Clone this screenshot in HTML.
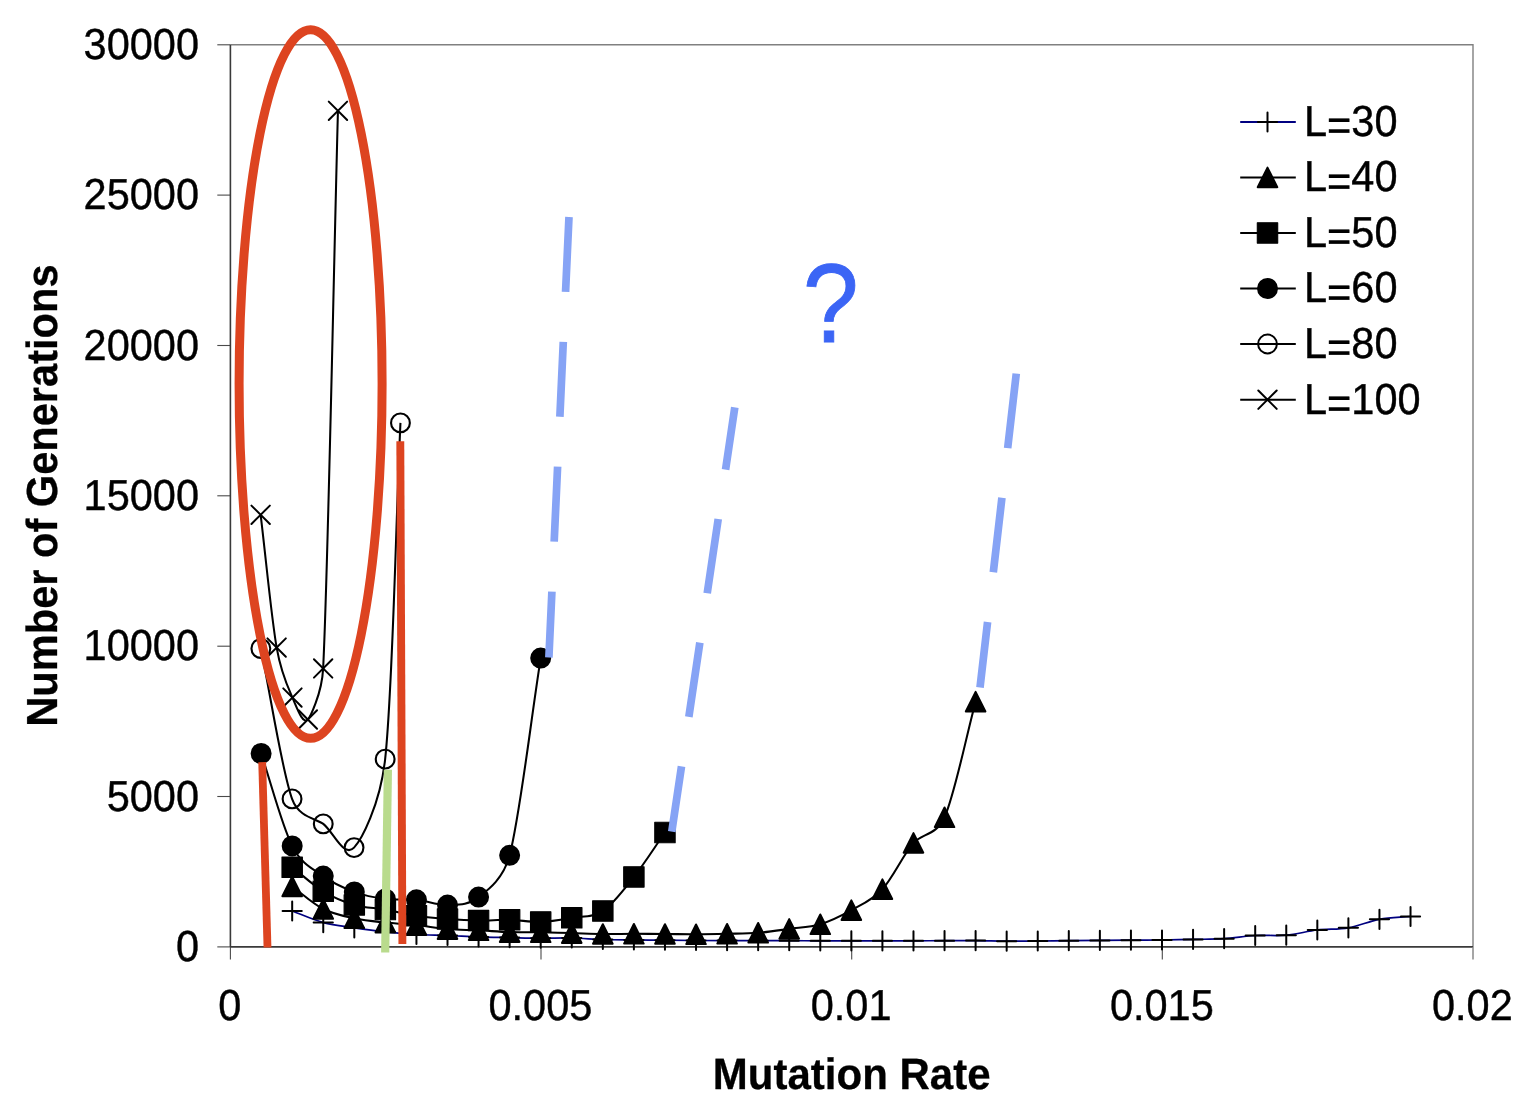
<!DOCTYPE html>
<html lang="en"><head><meta charset="utf-8"><title>Number of Generations vs Mutation Rate</title>
<style>html,body{margin:0;padding:0;background:#fff}body{width:1520px;height:1101px;overflow:hidden}svg{display:block}text{font-family:"Liberation Sans", Arial, Helvetica, sans-serif;fill:#000;text-rendering:geometricPrecision}.ax{font-size:41.5px;stroke:#000;stroke-width:.4px}.b{font-size:42px;font-weight:bold;stroke:#000;stroke-width:.3px}</style></head><body>
<svg width="1520" height="1101" viewBox="0 0 1520 1101">
<rect width="1520" height="1101" fill="#fff"/>
<path d="M230.4 44.8H1473.0V946.9" fill="none" stroke="#808080" stroke-width="1.4"/>
<g stroke="#4a4a4a" stroke-width="1.1" fill="none">
<path d="M230.4 946.9V959.5"/>
<path d="M217.3 946.9H230.4"/>
<path d="M217.3 796.5H230.4"/>
<path d="M217.3 646.2H230.4"/>
<path d="M217.3 495.8H230.4"/>
<path d="M217.3 345.5H230.4"/>
<path d="M217.3 195.1H230.4"/>
<path d="M217.3 44.8H230.4"/>
<path d="M541.0 946.9V959.5"/>
<path d="M851.7 946.9V959.5"/>
<path d="M1162.3 946.9V959.5"/>
</g>
<g stroke="#3a3a3a" stroke-width="1.6" fill="none">
<path d="M230.4 44.8V946.9"/>
<path d="M230.4 946.9H1473.0"/>
</g>
<path d="M1473.0 946.9V959.5" stroke="#808080" stroke-width="1.4"/>
<text class="ax" text-anchor="end" transform="translate(199.0 961.1) scale(1 1.045)">0</text>
<text class="ax" text-anchor="end" transform="translate(199.0 810.8) scale(1 1.045)">5000</text>
<text class="ax" text-anchor="end" transform="translate(199.0 660.4) scale(1 1.045)">10000</text>
<text class="ax" text-anchor="end" transform="translate(199.0 510.0) scale(1 1.045)">15000</text>
<text class="ax" text-anchor="end" transform="translate(199.0 359.7) scale(1 1.045)">20000</text>
<text class="ax" text-anchor="end" transform="translate(199.0 209.3) scale(1 1.045)">25000</text>
<text class="ax" text-anchor="end" transform="translate(199.0 59.0) scale(1 1.045)">30000</text>
<text class="ax" text-anchor="middle" transform="translate(229.8 1019.6) scale(1 1.045)">0</text>
<text class="ax" text-anchor="middle" transform="translate(540.4 1019.6) scale(1 1.045)">0.005</text>
<text class="ax" text-anchor="middle" transform="translate(851.1 1019.6) scale(1 1.045)">0.01</text>
<text class="ax" text-anchor="middle" transform="translate(1161.8 1019.6) scale(1 1.045)">0.015</text>
<text class="ax" text-anchor="middle" transform="translate(1472.4 1019.6) scale(1 1.045)">0.02</text>
<text class="b" text-anchor="middle" transform="translate(851.7 1089.0) scale(1 1.045)">Mutation Rate</text>
<text class="b" text-anchor="middle" style="font-size:41.6px" transform="translate(56.9 495.6) rotate(-90) scale(1 1.045)">Number of Generations</text>
<g transform="translate(-0.35 0.3)">
<path d="M292.53 910.70 C302.88 914.57 313.24 919.50 323.60 922.30 C333.95 925.10 344.30 925.95 354.66 927.50 C365.01 929.05 375.37 930.48 385.73 931.60 C396.08 932.72 406.43 933.60 416.79 934.20 C427.14 934.80 437.50 934.80 447.86 935.20 C458.21 935.60 468.56 936.25 478.92 936.60 C489.27 936.95 499.63 937.08 509.99 937.30 C520.34 937.52 530.69 937.83 541.05 937.90 C551.40 937.97 561.76 937.48 572.11 937.70 C582.47 937.92 592.82 938.88 603.18 939.20 C613.53 939.52 623.89 939.48 634.24 939.60 C644.60 939.72 654.95 939.80 665.31 939.90 C675.66 940.00 686.02 940.13 696.38 940.20 C706.73 940.27 717.08 940.27 727.44 940.30 C737.79 940.33 748.15 940.38 758.50 940.40 C768.86 940.42 779.21 940.38 789.57 940.40 C799.92 940.42 810.28 940.48 820.63 940.50 C830.99 940.52 841.34 940.50 851.70 940.50 C862.05 940.50 872.41 940.50 882.76 940.50 C893.12 940.50 903.47 940.52 913.83 940.50 C924.18 940.48 934.54 940.43 944.89 940.40 C955.25 940.37 965.60 940.22 975.96 940.30 C986.31 940.38 996.67 940.83 1007.02 940.90 C1017.38 940.97 1027.73 940.78 1038.09 940.70 C1048.44 940.62 1058.80 940.50 1069.15 940.40 C1079.51 940.30 1089.87 940.18 1100.22 940.10 C1110.58 940.02 1120.93 939.97 1131.28 939.90 C1141.64 939.83 1151.99 939.83 1162.35 939.70 C1172.70 939.57 1183.06 939.32 1193.41 939.10 C1203.77 938.88 1214.12 939.05 1224.48 938.40 C1234.84 937.75 1245.19 935.78 1255.55 935.20 C1265.90 934.62 1276.25 935.82 1286.61 934.90 C1296.96 933.98 1307.32 930.93 1317.67 929.70 C1328.03 928.47 1338.38 929.28 1348.74 927.50 C1359.10 925.72 1369.45 920.88 1379.80 919.00 C1390.16 917.12 1400.51 917.13 1410.87 916.20" fill="none" stroke="#000080" stroke-width="1.7" stroke-linejoin="round"/>
<g fill="none" stroke="#000" stroke-width="2" stroke-linecap="round">
<path d="M282.93 910.70H302.13M292.53 901.10V920.30"/>
<path d="M314.00 922.30H333.20M323.60 912.70V931.90"/>
<path d="M345.06 927.50H364.26M354.66 917.90V937.10"/>
<path d="M376.12 931.60H395.33M385.73 922.00V941.20"/>
<path d="M407.19 934.20H426.39M416.79 924.60V943.80"/>
<path d="M438.25 935.20H457.46M447.86 925.60V944.80"/>
<path d="M469.32 936.60H488.52M478.92 927.00V946.20"/>
<path d="M500.38 937.30H519.59M509.99 927.70V946.90"/>
<path d="M531.45 937.90H550.65M541.05 928.30V947.50"/>
<path d="M562.51 937.70H581.71M572.11 928.10V947.30"/>
<path d="M593.58 939.20H612.78M603.18 929.60V948.80"/>
<path d="M624.64 939.60H643.84M634.24 930.00V949.20"/>
<path d="M655.71 939.90H674.91M665.31 930.30V949.50"/>
<path d="M686.77 940.20H705.98M696.38 930.60V949.80"/>
<path d="M717.84 940.30H737.04M727.44 930.70V949.90"/>
<path d="M748.90 940.40H768.10M758.50 930.80V950.00"/>
<path d="M779.97 940.40H799.17M789.57 930.80V950.00"/>
<path d="M811.03 940.50H830.23M820.63 930.90V950.10"/>
<path d="M842.10 940.50H861.30M851.70 930.90V950.10"/>
<path d="M873.16 940.50H892.37M882.76 930.90V950.10"/>
<path d="M904.23 940.50H923.43M913.83 930.90V950.10"/>
<path d="M935.29 940.40H954.50M944.89 930.80V950.00"/>
<path d="M966.36 940.30H985.56M975.96 930.70V949.90"/>
<path d="M997.42 940.90H1016.62M1007.02 931.30V950.50"/>
<path d="M1028.49 940.70H1047.69M1038.09 931.10V950.30"/>
<path d="M1059.56 940.40H1078.75M1069.15 930.80V950.00"/>
<path d="M1090.62 940.10H1109.82M1100.22 930.50V949.70"/>
<path d="M1121.68 939.90H1140.88M1131.28 930.30V949.50"/>
<path d="M1152.75 939.70H1171.95M1162.35 930.10V949.30"/>
<path d="M1183.82 939.10H1203.01M1193.41 929.50V948.70"/>
<path d="M1214.88 938.40H1234.08M1224.48 928.80V948.00"/>
<path d="M1245.95 935.20H1265.14M1255.55 925.60V944.80"/>
<path d="M1277.01 934.90H1296.21M1286.61 925.30V944.50"/>
<path d="M1308.08 929.70H1327.27M1317.67 920.10V939.30"/>
<path d="M1339.14 927.50H1358.34M1348.74 917.90V937.10"/>
<path d="M1370.20 919.00H1389.40M1379.80 909.40V928.60"/>
<path d="M1401.27 916.20H1420.47M1410.87 906.60V925.80"/>
</g>
<path d="M292.53 886.20 C302.88 893.70 313.24 903.40 323.60 908.70 C333.95 914.00 344.30 915.73 354.66 918.00 C365.01 920.27 375.37 921.17 385.73 922.30 C396.08 923.43 406.43 923.72 416.79 924.80 C427.14 925.88 437.50 927.93 447.86 928.80 C458.21 929.67 468.56 929.50 478.92 930.00 C489.27 930.50 499.63 931.47 509.99 931.80 C520.34 932.13 530.69 931.83 541.05 932.00 C551.40 932.17 561.76 932.52 572.11 932.80 C582.47 933.08 592.82 933.58 603.18 933.70 C613.53 933.82 623.89 933.50 634.24 933.50 C644.60 933.50 654.95 933.62 665.31 933.70 C675.66 933.78 686.02 934.03 696.38 934.00 C706.73 933.97 717.08 933.75 727.44 933.50 C737.79 933.25 748.15 933.32 758.50 932.50 C768.86 931.68 779.21 930.02 789.57 928.60 C799.92 927.18 810.28 927.12 820.63 924.00 C830.99 920.88 841.34 915.75 851.70 909.90 C862.05 904.05 872.41 900.12 882.76 888.90 C893.12 877.68 903.47 854.58 913.83 842.60 C921.94 833.22 936.79 835.42 944.89 817.00 C955.25 793.47 965.60 739.93 975.96 701.40" fill="none" stroke="#000" stroke-width="2.05" stroke-linejoin="round"/>
<g fill="#000" stroke="#000" stroke-width="2" stroke-linejoin="round">
<path d="M292.53 876.40L302.33 896.00L282.73 896.00Z"/>
<path d="M323.60 898.90L333.40 918.50L313.80 918.50Z"/>
<path d="M354.66 908.20L364.46 927.80L344.86 927.80Z"/>
<path d="M385.73 912.50L395.53 932.10L375.93 932.10Z"/>
<path d="M416.79 915.00L426.59 934.60L406.99 934.60Z"/>
<path d="M447.86 919.00L457.66 938.60L438.06 938.60Z"/>
<path d="M478.92 920.20L488.72 939.80L469.12 939.80Z"/>
<path d="M509.99 922.00L519.78 941.60L500.19 941.60Z"/>
<path d="M541.05 922.20L550.85 941.80L531.25 941.80Z"/>
<path d="M572.11 923.00L581.91 942.60L562.31 942.60Z"/>
<path d="M603.18 923.90L612.98 943.50L593.38 943.50Z"/>
<path d="M634.24 923.70L644.04 943.30L624.44 943.30Z"/>
<path d="M665.31 923.90L675.11 943.50L655.51 943.50Z"/>
<path d="M696.38 924.20L706.17 943.80L686.58 943.80Z"/>
<path d="M727.44 923.70L737.24 943.30L717.64 943.30Z"/>
<path d="M758.50 922.70L768.30 942.30L748.70 942.30Z"/>
<path d="M789.57 918.80L799.37 938.40L779.77 938.40Z"/>
<path d="M820.63 914.20L830.43 933.80L810.83 933.80Z"/>
<path d="M851.70 900.10L861.50 919.70L841.90 919.70Z"/>
<path d="M882.76 879.10L892.56 898.70L872.97 898.70Z"/>
<path d="M913.83 832.80L923.63 852.40L904.03 852.40Z"/>
<path d="M944.89 807.20L954.69 826.80L935.10 826.80Z"/>
<path d="M975.96 691.60L985.76 711.20L966.16 711.20Z"/>
</g>
<path d="M292.53 866.90 C302.88 874.93 313.24 884.72 323.60 891.00 C333.95 897.28 344.30 901.55 354.66 904.60 C365.01 907.65 375.37 907.48 385.73 909.30 C396.08 911.12 406.43 913.92 416.79 915.50 C427.14 917.08 437.50 918.00 447.86 918.80 C458.21 919.60 468.56 920.18 478.92 920.30 C489.27 920.42 499.63 919.28 509.99 919.50 C520.34 919.72 530.69 921.93 541.05 921.60 C551.40 921.27 561.76 919.32 572.11 917.50 C582.47 915.68 592.82 917.52 603.18 910.70 C613.53 903.88 623.89 889.68 634.24 876.60 C644.60 863.52 654.95 847.00 665.31 832.20" fill="none" stroke="#000" stroke-width="2.05" stroke-linejoin="round"/>
<g fill="#000" stroke="#000" stroke-width="1.1" stroke-linejoin="round">
<rect x="282.33" y="856.70" width="20.40" height="20.40"/>
<rect x="313.40" y="880.80" width="20.40" height="20.40"/>
<rect x="344.46" y="894.40" width="20.40" height="20.40"/>
<rect x="375.53" y="899.10" width="20.40" height="20.40"/>
<rect x="406.59" y="905.30" width="20.40" height="20.40"/>
<rect x="437.66" y="908.60" width="20.40" height="20.40"/>
<rect x="468.72" y="910.10" width="20.40" height="20.40"/>
<rect x="499.79" y="909.30" width="20.40" height="20.40"/>
<rect x="530.85" y="911.40" width="20.40" height="20.40"/>
<rect x="561.91" y="907.30" width="20.40" height="20.40"/>
<rect x="592.98" y="900.50" width="20.40" height="20.40"/>
<rect x="624.04" y="866.40" width="20.40" height="20.40"/>
<rect x="655.11" y="822.00" width="20.40" height="20.40"/>
</g>
<path d="M261.47 753.20 C271.82 784.00 282.17 825.17 292.53 845.60 C302.32 864.92 313.80 868.55 323.60 875.80 C333.95 883.47 344.30 887.78 354.66 891.60 C365.01 895.42 375.37 897.38 385.73 898.70 C396.08 900.02 406.43 898.48 416.79 899.50 C427.14 900.52 437.50 905.25 447.86 904.80 C458.21 904.35 468.56 905.10 478.92 896.80 C485.47 891.55 503.43 880.20 509.99 855.00 C520.34 815.17 530.69 723.53 541.05 657.80" fill="none" stroke="#000" stroke-width="2.05" stroke-linejoin="round"/>
<g fill="#000" stroke="#000" stroke-width="2" stroke-linejoin="round">
<circle cx="261.47" cy="753.20" r="9.50"/>
<circle cx="292.53" cy="845.60" r="9.50"/>
<circle cx="323.60" cy="875.80" r="9.50"/>
<circle cx="354.66" cy="891.60" r="9.50"/>
<circle cx="385.73" cy="898.70" r="9.50"/>
<circle cx="416.79" cy="899.50" r="9.50"/>
<circle cx="447.86" cy="904.80" r="9.50"/>
<circle cx="478.92" cy="896.80" r="9.50"/>
<circle cx="509.99" cy="855.00" r="9.50"/>
<circle cx="541.05" cy="657.80" r="9.50"/>
</g>
<path d="M261.20 648.20 C271.60 698.33 282.00 769.37 292.40 798.60 C299.10 817.43 316.94 818.37 323.60 823.60 C333.93 831.72 344.08 858.10 354.40 847.30 C361.20 840.19 380.41 805.43 385.50 758.80 C393.23 688.02 395.70 534.67 400.80 422.60" fill="none" stroke="#000" stroke-width="2.05" stroke-linejoin="round"/>
<g fill="none" stroke="#000" stroke-width="2.1" stroke-linecap="round">
<circle cx="261.20" cy="648.20" r="9.40"/>
<circle cx="292.40" cy="798.60" r="9.40"/>
<circle cx="323.60" cy="823.60" r="9.40"/>
<circle cx="354.40" cy="847.30" r="9.40"/>
<circle cx="385.50" cy="758.80" r="9.40"/>
<circle cx="400.80" cy="422.60" r="9.40"/>
</g>
<path d="M261.00 514.50 C266.33 558.77 271.70 616.83 277.00 647.30 C281.49 673.13 288.39 687.14 292.80 697.30 C298.00 709.28 303.08 724.07 308.20 719.20 C309.54 717.92 322.18 694.74 323.50 668.10 C328.52 566.65 333.37 296.37 338.30 110.50" fill="none" stroke="#000" stroke-width="2.05" stroke-linejoin="round"/>
<g fill="none" stroke="#000" stroke-width="2" stroke-linecap="round">
<path d="M251.80 505.30L270.20 523.70M251.80 523.70L270.20 505.30"/>
<path d="M267.80 638.10L286.20 656.50M267.80 656.50L286.20 638.10"/>
<path d="M283.60 688.10L302.00 706.50M283.60 706.50L302.00 688.10"/>
<path d="M299.00 710.00L317.40 728.40M299.00 728.40L317.40 710.00"/>
<path d="M314.30 658.90L332.70 677.30M314.30 677.30L332.70 658.90"/>
<path d="M329.10 101.30L347.50 119.70M329.10 119.70L347.50 101.30"/>
</g>
</g>
<ellipse cx="310.6" cy="384" rx="71.5" ry="354.3" fill="none" stroke="#DD4420" stroke-width="9"/>
<path d="M262.2 762.1L267.5 947.5" stroke="#DD4420" stroke-width="7.8" fill="none"/>
<path d="M400.3 441.3L402.4 944.1" stroke="#DD4420" stroke-width="7.9" fill="none"/>
<path d="M387.9 769.7L385.2 952.5" stroke="#B9DB8D" stroke-width="8.2" fill="none"/>
<g stroke="#86A3F5" stroke-width="7.7" fill="none" stroke-dasharray="75 50" stroke-dashoffset="9">
<path d="M548.9 657.5L569 216.5"/>
<path d="M671.8 831.6L734.8 407.4"/>
<path d="M980 687.5L1016.4 372.5"/>
</g>
<text text-anchor="middle" transform="translate(830.8 341.6) scale(1 1.115)" style="font-size:100.5px;fill:#3B65F5;stroke:#3B65F5;stroke-width:.8px">?</text>
<path d="M1240.2 122.0H1295.8" stroke="#000080" stroke-width="2.05"/>
<g fill="none" stroke="#000" stroke-width="2" stroke-linecap="round"><path d="M1257.90 122.00H1277.10M1267.50 112.40V131.60"/></g>
<text class="ax" text-anchor="start" transform="translate(1304.0 135.9) scale(1 1.045)">L<tspan dy="4.2">=</tspan><tspan dy="-4.2">30</tspan></text>
<path d="M1240.2 177.4H1295.8" stroke="#000" stroke-width="2.05"/>
<g fill="#000" stroke="#000" stroke-width="2" stroke-linejoin="round"><path d="M1267.50 167.60L1277.30 187.20L1257.70 187.20Z"/></g>
<text class="ax" text-anchor="start" transform="translate(1304.0 191.3) scale(1 1.045)">L<tspan dy="4.2">=</tspan><tspan dy="-4.2">40</tspan></text>
<path d="M1240.2 232.9H1295.8" stroke="#000" stroke-width="2.05"/>
<g fill="#000" stroke="#000" stroke-width="1.1" stroke-linejoin="round"><rect x="1257.30" y="222.70" width="20.40" height="20.40"/></g>
<text class="ax" text-anchor="start" transform="translate(1304.0 246.8) scale(1 1.045)">L<tspan dy="4.2">=</tspan><tspan dy="-4.2">50</tspan></text>
<path d="M1240.2 288.5H1295.8" stroke="#000" stroke-width="2.05"/>
<g fill="#000" stroke="#000" stroke-width="2" stroke-linejoin="round"><circle cx="1267.50" cy="288.50" r="9.50"/></g>
<text class="ax" text-anchor="start" transform="translate(1304.0 302.4) scale(1 1.045)">L<tspan dy="4.2">=</tspan><tspan dy="-4.2">60</tspan></text>
<path d="M1240.2 344.0H1295.8" stroke="#000" stroke-width="2.05"/>
<g fill="none" stroke="#000" stroke-width="2" stroke-linecap="round"><circle cx="1267.50" cy="344.00" r="9.40"/></g>
<text class="ax" text-anchor="start" transform="translate(1304.0 357.9) scale(1 1.045)">L<tspan dy="4.2">=</tspan><tspan dy="-4.2">80</tspan></text>
<path d="M1240.2 399.7H1295.8" stroke="#000" stroke-width="2.05"/>
<g fill="none" stroke="#000" stroke-width="2" stroke-linecap="round"><path d="M1258.30 390.50L1276.70 408.90M1258.30 408.90L1276.70 390.50"/></g>
<text class="ax" text-anchor="start" transform="translate(1304.0 413.6) scale(1 1.045)">L<tspan dy="4.2">=</tspan><tspan dy="-4.2">100</tspan></text>
</svg></body></html>
